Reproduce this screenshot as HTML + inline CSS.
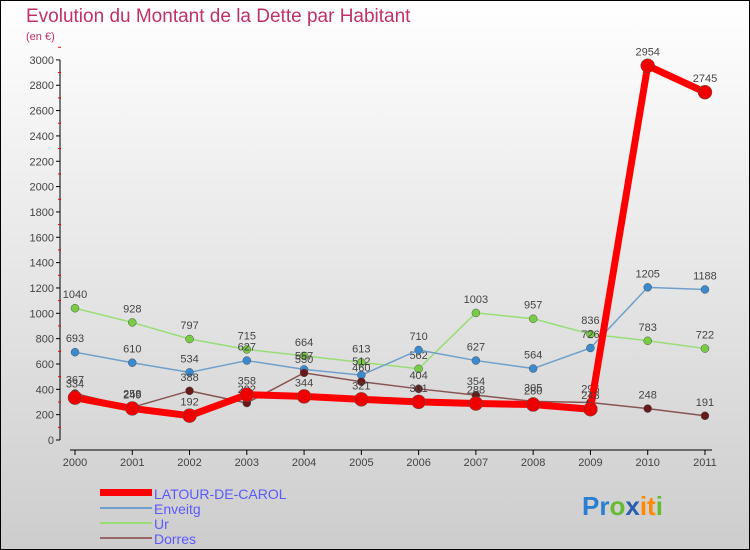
<!DOCTYPE html>
<html><head><meta charset="utf-8"><style>
body{margin:0;width:750px;height:550px;overflow:hidden}
svg{display:block;font-family:"Liberation Sans",sans-serif}
</style></head><body>
<svg id="chart" width="750" height="550">
<defs><linearGradient id="bg" x1="0" y1="0" x2="0" y2="1"><stop offset="0" stop-color="#ffffff"/><stop offset="1" stop-color="#cdcdcd"/></linearGradient></defs>
<rect x="0.5" y="0.5" width="749" height="549" fill="url(#bg)" stroke="#000"/>
<text x="26" y="22" font-size="19" fill="#c0306a">Evolution du Montant de la Dette par Habitant</text>
<text x="26" y="40" font-size="11" fill="#c0306a">(en €)</text>
<g id="axes"></g>
<g id="series"></g>
<g>
<rect x="100" y="489" width="52" height="7" fill="#ff0000"/>
<text x="154" y="499" font-size="14" fill="#5a5aff">LATOUR-DE-CAROL</text>
<line x1="100" y1="508" x2="152" y2="508" stroke="#6fa0cc" stroke-width="2"/>
<text x="154" y="514" font-size="14" fill="#5a5aff">Enveitg</text>
<line x1="100" y1="523" x2="152" y2="523" stroke="#99dd77" stroke-width="2"/>
<text x="154" y="529" font-size="14" fill="#5a5aff">Ur</text>
<line x1="100" y1="538" x2="152" y2="538" stroke="#996666" stroke-width="2"/>
<text x="154" y="544" font-size="14" fill="#5a5aff">Dorres</text>
</g>
<text x="582" y="515" font-size="26" font-weight="bold"><tspan fill="#2a7fd0">Pr</tspan><tspan fill="#66bb33">o</tspan><tspan fill="#2a5fb0">x</tspan><tspan fill="#ff8800">it</tspan><tspan fill="#66bb33">i</tspan></text>
</svg>
<script>
const years=["2000","2001","2002","2003","2004","2005","2006","2007","2008","2009","2010","2011"];
const yTicks=[0,200,400,600,800,1000,1200,1400,1600,1800,2000,2200,2400,2600,2800,3000];
const latour=[334,249,192,358,344,321,301,288,280,243,2954,2745];
const enveitg=[693,610,534,627,557,512,710,627,564,726,1205,1188];
const ur=[1040,928,797,715,664,613,562,1003,957,836,783,722];
const dorres=[367,258,388,292,530,460,404,354,305,296,248,191];
const NS="http://www.w3.org/2000/svg";
function xS(i){return 75+i*57.27;}
function yS(v){return 440-v*0.1267;}
function mk(t,a,p){const e=document.createElementNS(NS,t);for(const k in a)e.setAttribute(k,a[k]);p.appendChild(e);return e;}
const ax=document.getElementById('axes');
let l=mk('line',{x1:60,y1:60,x2:60,y2:440,stroke:'#000'},ax);


l=mk('line',{x1:70,y1:450,x2:712,y2:450,stroke:'#000'},ax);


yTicks.forEach(v=>{
  mk('line',{x1:56,y1:yS(v),x2:60,y2:yS(v),stroke:'#000'},ax);
  mk('line',{x1:58,y1:yS(v+100),x2:61,y2:yS(v+100),stroke:'#e00'},ax);
  const t=mk('text',{x:54,y:yS(v)+4,'text-anchor':'end','font-size':11,fill:'#444'},ax);
  t.textContent=v;
  
  
});
years.forEach((y,i)=>{
  mk('line',{x1:xS(i),y1:450,x2:xS(i),y2:455,stroke:'#000'},ax);
  const t=mk('text',{x:xS(i),y:466,'text-anchor':'middle','font-size':11,fill:'#444'},ax);
  t.textContent=y;
  
  
});
const sg=document.getElementById('series');
function draw(vals,name,color,w,r,dot){
  const g=mk('g',{},sg);
  
  
  const p=mk('polyline',{points:vals.map((v,i)=>xS(i)+','+yS(v)).join(' '),fill:'none',stroke:color,'stroke-width':w,'stroke-linejoin':'round'},g);
  
  
  vals.forEach((v,i)=>{
    const c=mk('circle',{cx:xS(i),cy:yS(v),r:r,fill:dot,stroke:'#555','stroke-width':0.5},g);
    
    
    const t=mk('text',{x:xS(i),y:yS(v)-10,'text-anchor':'middle','font-size':11,fill:'#444'},g);
    t.textContent=v;
    
    
  });
}
draw(ur,'ur','#99dd77',1.5,4,'#77cc44');
draw(enveitg,'enveitg','#6fa0cc',1.5,4,'#3a8ad0');
draw(dorres,'dorres','#885555',1.5,4,'#661a1a');
draw(latour,'latour','#ff0000',7,7,'#ee0000');
</script>
</body></html>
